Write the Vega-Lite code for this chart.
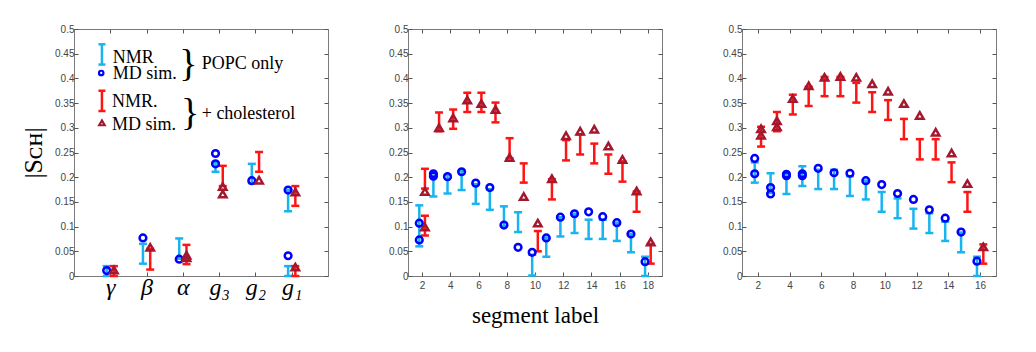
{
  "$schema": "https://vega.github.io/schema/vega-lite/v6.json",
  "background": "white",
  "padding": {"left": 20, "top": 23, "right": 38, "bottom": 5},
  "spacing": 80,
  "bounds": "flush",
  "config": {
    "view": {"stroke": "#7a7a7a", "strokeWidth": 1},
    "axis": {"grid": false, "domain": false, "tickColor": "#555", "tickSize": -4, "labelFont": "Liberation Sans", "labelFontSize": 10, "labelColor": "#444", "labelPadding": 4, "titleFont": "Liberation Serif", "titleFontWeight": "normal", "titleColor": "#000"}
  },
  "datasets": {
    "nmr": [
      {"p":1,"k":"nmrPOPC","x":0.9,"lo":0,"hi":0.02},
      {"p":1,"k":"nmrPOPC","x":1.9,"lo":0.025,"hi":0.065},
      {"p":1,"k":"nmrPOPC","x":2.9,"lo":0.035,"hi":0.076},
      {"p":1,"k":"nmrPOPC","x":3.9,"lo":0.211,"hi":0.23},
      {"p":1,"k":"nmrPOPC","x":4.9,"lo":0.188,"hi":0.227},
      {"p":1,"k":"nmrPOPC","x":5.9,"lo":0.131,"hi":0.174},
      {"p":1,"k":"nmrPOPC","x":5.9,"lo":0,"hi":0.02},
      {"p":1,"k":"nmrChol","x":1.1,"lo":0,"hi":0.02},
      {"p":1,"k":"nmrChol","x":2.1,"lo":0.013,"hi":0.055},
      {"p":1,"k":"nmrChol","x":3.1,"lo":0.024,"hi":0.063},
      {"p":1,"k":"nmrChol","x":4.1,"lo":0.182,"hi":0.223},
      {"p":1,"k":"nmrChol","x":5.1,"lo":0.211,"hi":0.251},
      {"p":1,"k":"nmrChol","x":6.1,"lo":0.142,"hi":0.182},
      {"p":1,"k":"nmrChol","x":6.1,"lo":0,"hi":0.02},

      {"p":2,"k":"nmrPOPC","x":1.8,"lo":0.06,"hi":0.143},
      {"p":2,"k":"nmrPOPC","x":2.8,"lo":0.161,"hi":0.203},
      {"p":2,"k":"nmrPOPC","x":3.8,"lo":0.167,"hi":0.205},
      {"p":2,"k":"nmrPOPC","x":4.8,"lo":0.174,"hi":0.213},
      {"p":2,"k":"nmrPOPC","x":5.8,"lo":0.146,"hi":0.186},
      {"p":2,"k":"nmrPOPC","x":6.8,"lo":0.134,"hi":0.176},
      {"p":2,"k":"nmrPOPC","x":7.8,"lo":0.101,"hi":0.141},
      {"p":2,"k":"nmrPOPC","x":8.8,"lo":0.089,"hi":0.129},
      {"p":2,"k":"nmrPOPC","x":9.8,"lo":0.001,"hi":0.043},
      {"p":2,"k":"nmrPOPC","x":10.8,"lo":0.039,"hi":0.078},
      {"p":2,"k":"nmrPOPC","x":11.8,"lo":0.08,"hi":0.119},
      {"p":2,"k":"nmrPOPC","x":12.8,"lo":0.087,"hi":0.126},
      {"p":2,"k":"nmrPOPC","x":13.8,"lo":0.075,"hi":0.114},
      {"p":2,"k":"nmrPOPC","x":14.8,"lo":0.075,"hi":0.114},
      {"p":2,"k":"nmrPOPC","x":15.8,"lo":0.071,"hi":0.108},
      {"p":2,"k":"nmrPOPC","x":16.8,"lo":0.048,"hi":0.085},
      {"p":2,"k":"nmrPOPC","x":17.8,"lo":0,"hi":0.039},
      {"p":2,"k":"nmrChol","x":2.2,"lo":0.177,"hi":0.217},
      {"p":2,"k":"nmrChol","x":2.2,"lo":0.082,"hi":0.122},
      {"p":2,"k":"nmrChol","x":3.2,"lo":0.293,"hi":0.331},
      {"p":2,"k":"nmrChol","x":4.2,"lo":0.298,"hi":0.337},
      {"p":2,"k":"nmrChol","x":5.2,"lo":0.332,"hi":0.371},
      {"p":2,"k":"nmrChol","x":6.2,"lo":0.332,"hi":0.371},
      {"p":2,"k":"nmrChol","x":7.2,"lo":0.311,"hi":0.351},
      {"p":2,"k":"nmrChol","x":8.2,"lo":0.238,"hi":0.279},
      {"p":2,"k":"nmrChol","x":9.2,"lo":0.189,"hi":0.228},
      {"p":2,"k":"nmrChol","x":10.2,"lo":0.05,"hi":0.091},
      {"p":2,"k":"nmrChol","x":11.2,"lo":0.155,"hi":0.196},
      {"p":2,"k":"nmrChol","x":12.2,"lo":0.234,"hi":0.275},
      {"p":2,"k":"nmrChol","x":13.2,"lo":0.246,"hi":0.287},
      {"p":2,"k":"nmrChol","x":14.2,"lo":0.228,"hi":0.268},
      {"p":2,"k":"nmrChol","x":15.2,"lo":0.207,"hi":0.246},
      {"p":2,"k":"nmrChol","x":16.2,"lo":0.191,"hi":0.232},
      {"p":2,"k":"nmrChol","x":17.2,"lo":0.13,"hi":0.171},
      {"p":2,"k":"nmrChol","x":18.2,"lo":0.025,"hi":0.065},

      {"p":3,"k":"nmrPOPC","x":1.8,"lo":0.189,"hi":0.23},
      {"p":3,"k":"nmrPOPC","x":2.8,"lo":0.168,"hi":0.208},
      {"p":3,"k":"nmrPOPC","x":3.8,"lo":0.166,"hi":0.206},
      {"p":3,"k":"nmrPOPC","x":4.8,"lo":0.182,"hi":0.222},
      {"p":3,"k":"nmrPOPC","x":5.8,"lo":0.176,"hi":0.215},
      {"p":3,"k":"nmrPOPC","x":6.8,"lo":0.176,"hi":0.215},
      {"p":3,"k":"nmrPOPC","x":7.8,"lo":0.162,"hi":0.202},
      {"p":3,"k":"nmrPOPC","x":8.8,"lo":0.155,"hi":0.193},
      {"p":3,"k":"nmrPOPC","x":9.8,"lo":0.13,"hi":0.17},
      {"p":3,"k":"nmrPOPC","x":10.8,"lo":0.117,"hi":0.157},
      {"p":3,"k":"nmrPOPC","x":11.8,"lo":0.096,"hi":0.136},
      {"p":3,"k":"nmrPOPC","x":12.8,"lo":0.087,"hi":0.127},
      {"p":3,"k":"nmrPOPC","x":13.8,"lo":0.071,"hi":0.11},
      {"p":3,"k":"nmrPOPC","x":14.8,"lo":0.048,"hi":0.088},
      {"p":3,"k":"nmrPOPC","x":15.8,"lo":0,"hi":0.039},
      {"p":3,"k":"nmrChol","x":2.2,"lo":0.262,"hi":0.302},
      {"p":3,"k":"nmrChol","x":3.2,"lo":0.293,"hi":0.332},
      {"p":3,"k":"nmrChol","x":4.2,"lo":0.327,"hi":0.367},
      {"p":3,"k":"nmrChol","x":5.2,"lo":0.344,"hi":0.383},
      {"p":3,"k":"nmrChol","x":6.2,"lo":0.364,"hi":0.403},
      {"p":3,"k":"nmrChol","x":7.2,"lo":0.364,"hi":0.403},
      {"p":3,"k":"nmrChol","x":8.2,"lo":0.351,"hi":0.391},
      {"p":3,"k":"nmrChol","x":9.2,"lo":0.332,"hi":0.372},
      {"p":3,"k":"nmrChol","x":10.2,"lo":0.316,"hi":0.356},
      {"p":3,"k":"nmrChol","x":11.2,"lo":0.277,"hi":0.318},
      {"p":3,"k":"nmrChol","x":12.2,"lo":0.236,"hi":0.277},
      {"p":3,"k":"nmrChol","x":13.2,"lo":0.236,"hi":0.277},
      {"p":3,"k":"nmrChol","x":14.2,"lo":0.19,"hi":0.23},
      {"p":3,"k":"nmrChol","x":15.2,"lo":0.13,"hi":0.17},
      {"p":3,"k":"nmrChol","x":16.2,"lo":0.025,"hi":0.064}
    ],
    "md": [
      {"p":1,"k":"mdPOPC","x":0.9,"v":0.011},
      {"p":1,"k":"mdPOPC","x":1.9,"v":0.077},
      {"p":1,"k":"mdPOPC","x":2.9,"v":0.034},
      {"p":1,"k":"mdPOPC","x":3.9,"v":0.248},
      {"p":1,"k":"mdPOPC","x":3.9,"v":0.227},
      {"p":1,"k":"mdPOPC","x":4.9,"v":0.193},
      {"p":1,"k":"mdPOPC","x":5.9,"v":0.174},
      {"p":1,"k":"mdPOPC","x":5.9,"v":0.041},
      {"p":1,"k":"mdChol","x":1.1,"v":0.012},
      {"p":1,"k":"mdChol","x":2.1,"v":0.058},
      {"p":1,"k":"mdChol","x":3.1,"v":0.042},
      {"p":1,"k":"mdChol","x":3.1,"v":0.037},
      {"p":1,"k":"mdChol","x":4.1,"v":0.181},
      {"p":1,"k":"mdChol","x":4.1,"v":0.166},
      {"p":1,"k":"mdChol","x":5.1,"v":0.194},
      {"p":1,"k":"mdChol","x":6.1,"v":0.17},
      {"p":1,"k":"mdChol","x":6.1,"v":0.018},

      {"p":2,"k":"mdPOPC","x":1.8,"v":0.107},
      {"p":2,"k":"mdPOPC","x":1.8,"v":0.073},
      {"p":2,"k":"mdPOPC","x":2.8,"v":0.207},
      {"p":2,"k":"mdPOPC","x":2.8,"v":0.202},
      {"p":2,"k":"mdPOPC","x":3.8,"v":0.201},
      {"p":2,"k":"mdPOPC","x":4.8,"v":0.211},
      {"p":2,"k":"mdPOPC","x":5.8,"v":0.188},
      {"p":2,"k":"mdPOPC","x":6.8,"v":0.179},
      {"p":2,"k":"mdPOPC","x":7.8,"v":0.103},
      {"p":2,"k":"mdPOPC","x":8.8,"v":0.058},
      {"p":2,"k":"mdPOPC","x":9.8,"v":0.048},
      {"p":2,"k":"mdPOPC","x":10.8,"v":0.077},
      {"p":2,"k":"mdPOPC","x":11.8,"v":0.119},
      {"p":2,"k":"mdPOPC","x":12.8,"v":0.126},
      {"p":2,"k":"mdPOPC","x":13.8,"v":0.13},
      {"p":2,"k":"mdPOPC","x":14.8,"v":0.12},
      {"p":2,"k":"mdPOPC","x":15.8,"v":0.108},
      {"p":2,"k":"mdPOPC","x":16.8,"v":0.085},
      {"p":2,"k":"mdPOPC","x":17.8,"v":0.029},
      {"p":2,"k":"mdChol","x":2.2,"v":0.171},
      {"p":2,"k":"mdChol","x":2.2,"v":0.099},
      {"p":2,"k":"mdChol","x":3.2,"v":0.3},
      {"p":2,"k":"mdChol","x":4.2,"v":0.32},
      {"p":2,"k":"mdChol","x":5.2,"v":0.356},
      {"p":2,"k":"mdChol","x":6.2,"v":0.349},
      {"p":2,"k":"mdChol","x":7.2,"v":0.337},
      {"p":2,"k":"mdChol","x":8.2,"v":0.24},
      {"p":2,"k":"mdChol","x":9.2,"v":0.161},
      {"p":2,"k":"mdChol","x":10.2,"v":0.107},
      {"p":2,"k":"mdChol","x":11.2,"v":0.197},
      {"p":2,"k":"mdChol","x":12.2,"v":0.284},
      {"p":2,"k":"mdChol","x":13.2,"v":0.293},
      {"p":2,"k":"mdChol","x":14.2,"v":0.297},
      {"p":2,"k":"mdChol","x":15.2,"v":0.263},
      {"p":2,"k":"mdChol","x":16.2,"v":0.236},
      {"p":2,"k":"mdChol","x":17.2,"v":0.172},
      {"p":2,"k":"mdChol","x":18.2,"v":0.069},

      {"p":3,"k":"mdPOPC","x":1.8,"v":0.238},
      {"p":3,"k":"mdPOPC","x":1.8,"v":0.207},
      {"p":3,"k":"mdPOPC","x":2.8,"v":0.179},
      {"p":3,"k":"mdPOPC","x":2.8,"v":0.166},
      {"p":3,"k":"mdPOPC","x":3.8,"v":0.206},
      {"p":3,"k":"mdPOPC","x":3.8,"v":0.203},
      {"p":3,"k":"mdPOPC","x":4.8,"v":0.207},
      {"p":3,"k":"mdPOPC","x":4.8,"v":0.203},
      {"p":3,"k":"mdPOPC","x":5.8,"v":0.218},
      {"p":3,"k":"mdPOPC","x":6.8,"v":0.209},
      {"p":3,"k":"mdPOPC","x":7.8,"v":0.208},
      {"p":3,"k":"mdPOPC","x":8.8,"v":0.193},
      {"p":3,"k":"mdPOPC","x":9.8,"v":0.185},
      {"p":3,"k":"mdPOPC","x":10.8,"v":0.167},
      {"p":3,"k":"mdPOPC","x":11.8,"v":0.155},
      {"p":3,"k":"mdPOPC","x":12.8,"v":0.134},
      {"p":3,"k":"mdPOPC","x":13.8,"v":0.117},
      {"p":3,"k":"mdPOPC","x":14.8,"v":0.089},
      {"p":3,"k":"mdPOPC","x":15.8,"v":0.03},
      {"p":3,"k":"mdChol","x":2.2,"v":0.298},
      {"p":3,"k":"mdChol","x":2.2,"v":0.285},
      {"p":3,"k":"mdChol","x":3.2,"v":0.314},
      {"p":3,"k":"mdChol","x":3.2,"v":0.302},
      {"p":3,"k":"mdChol","x":4.2,"v":0.359},
      {"p":3,"k":"mdChol","x":5.2,"v":0.385},
      {"p":3,"k":"mdChol","x":6.2,"v":0.402},
      {"p":3,"k":"mdChol","x":7.2,"v":0.404},
      {"p":3,"k":"mdChol","x":8.2,"v":0.402},
      {"p":3,"k":"mdChol","x":9.2,"v":0.389},
      {"p":3,"k":"mdChol","x":10.2,"v":0.374},
      {"p":3,"k":"mdChol","x":11.2,"v":0.349},
      {"p":3,"k":"mdChol","x":12.2,"v":0.325},
      {"p":3,"k":"mdChol","x":13.2,"v":0.291},
      {"p":3,"k":"mdChol","x":14.2,"v":0.249},
      {"p":3,"k":"mdChol","x":15.2,"v":0.187},
      {"p":3,"k":"mdChol","x":16.2,"v":0.059}
    ],
    "legbar": [
      {"k":"nmrPOPC","x":0.77,"lo":0.428,"hi":0.469},
      {"k":"nmrChol","x":0.77,"lo":0.334,"hi":0.375}
    ],
    "legpt": [
      {"k":"mdPOPC","x":0.75,"v":0.411},
      {"k":"mdChol","x":0.77,"v":0.31}
    ],
    "legtext": [
      {"x":1.07,"y":0.432,"t":"NMR"},
      {"x":1.07,"y":0.398,"t":"MD sim."},
      {"x":3.52,"y":0.42,"t":"POPC only"},
      {"x":1.05,"y":0.343,"t":"NMR."},
      {"x":1.05,"y":0.295,"t":"MD sim."},
      {"x":3.52,"y":0.317,"t":"+ cholesterol"}
    ],
    "legbrace": [
      {"x":3.15,"y":0.427,"t":"}"},
      {"x":3.2,"y":0.328,"t":"}"}
    ]
  },
  "hconcat": [
    {
      "width": 254, "height": 247,
      "resolve": {"axis": {"x": "independent", "y": "independent"}},
      "layer": [
        {"data": {"name": "nmr"}, "transform": [{"filter": "datum.p == 1"}],
         "mark": {"type": "rule", "strokeWidth": 2.5},
         "encoding": {
           "x": {"field": "x", "type": "quantitative", "scale": {"domain": [0, 7], "nice": false, "zero": false},
                 "axis": {"values": [1,2,3,4,5,6], "labelExpr": "['','γ','β','α','g₃','g₂','g₁'][datum.value]", "labelFont": "Liberation Serif", "labelFontStyle": "italic", "labelFontSize": 24, "labelColor": "#000", "labelBaseline": "alphabetic", "labelPadding": 22, "title": null}},
           "y": {"field": "lo", "type": "quantitative", "scale": {"domain": [0, 0.5], "nice": false},
                 "axis": {"values": [0,0.05,0.1,0.15,0.2,0.25,0.3,0.35,0.4,0.45,0.5], "format": ".2~f", "title": "|Sᴄʜ|", "titleFontSize": 26, "titlePadding": 8}},
           "y2": {"field": "hi"},
           "color": {"field": "k", "type": "nominal", "legend": null, "scale": {"domain": ["nmrPOPC","nmrChol","mdPOPC","mdChol"], "range": ["#17b4f0","#ff1414","#0000ff","#a3182e"]}}
         }},
        {"data": {"name": "nmr"}, "transform": [{"filter": "datum.p == 1"}],
         "mark": {"type": "tick", "orient": "horizontal", "size": 8, "thickness": 2.5, "opacity": 1},
         "encoding": {"x": {"field": "x", "type": "quantitative", "axis": null}, "y": {"field": "lo", "type": "quantitative", "axis": null}, "color": {"field": "k", "type": "nominal", "legend": null}}},
        {"data": {"name": "nmr"}, "transform": [{"filter": "datum.p == 1"}],
         "mark": {"type": "tick", "orient": "horizontal", "size": 8, "thickness": 2.5, "opacity": 1},
         "encoding": {"x": {"field": "x", "type": "quantitative", "axis": null}, "y": {"field": "hi", "type": "quantitative", "axis": null}, "color": {"field": "k", "type": "nominal", "legend": null}}},
        {"data": {"name": "md"}, "transform": [{"filter": "datum.p == 1 && datum.k == 'mdPOPC'"}],
         "mark": {"type": "point", "shape": "circle", "filled": false, "strokeWidth": 2.5, "size": 45, "opacity": 1},
         "encoding": {"x": {"field": "x", "type": "quantitative", "axis": null}, "y": {"field": "v", "type": "quantitative", "axis": null}, "color": {"field": "k", "type": "nominal", "legend": null}}},
        {"data": {"name": "md"}, "transform": [{"filter": "datum.p == 1 && datum.k == 'mdChol'"}],
         "mark": {"type": "point", "shape": "triangle-up", "filled": false, "strokeWidth": 2.5, "size": 55, "opacity": 1},
         "encoding": {"x": {"field": "x", "type": "quantitative", "axis": null}, "y": {"field": "v", "type": "quantitative", "axis": null}, "color": {"field": "k", "type": "nominal", "legend": null}}},
        {"data": {"name": "legbar"},
         "mark": {"type": "rule", "strokeWidth": 2.5},
         "encoding": {"x": {"field": "x", "type": "quantitative", "axis": null}, "y": {"field": "lo", "type": "quantitative", "axis": null}, "y2": {"field": "hi"}, "color": {"field": "k", "type": "nominal", "legend": null}}},
        {"data": {"name": "legbar"},
         "mark": {"type": "tick", "orient": "horizontal", "size": 7, "thickness": 2.5, "opacity": 1},
         "encoding": {"x": {"field": "x", "type": "quantitative", "axis": null}, "y": {"field": "lo", "type": "quantitative", "axis": null}, "color": {"field": "k", "type": "nominal", "legend": null}}},
        {"data": {"name": "legbar"},
         "mark": {"type": "tick", "orient": "horizontal", "size": 7, "thickness": 2.5, "opacity": 1},
         "encoding": {"x": {"field": "x", "type": "quantitative", "axis": null}, "y": {"field": "hi", "type": "quantitative", "axis": null}, "color": {"field": "k", "type": "nominal", "legend": null}}},
        {"data": {"name": "legpt"}, "transform": [{"filter": "datum.k == 'mdPOPC'"}],
         "mark": {"type": "point", "shape": "circle", "filled": false, "strokeWidth": 2.2, "size": 20, "opacity": 1},
         "encoding": {"x": {"field": "x", "type": "quantitative", "axis": null}, "y": {"field": "v", "type": "quantitative", "axis": null}, "color": {"field": "k", "type": "nominal", "legend": null}}},
        {"data": {"name": "legpt"}, "transform": [{"filter": "datum.k == 'mdChol'"}],
         "mark": {"type": "point", "shape": "triangle-up", "filled": false, "strokeWidth": 2.2, "size": 30, "opacity": 1},
         "encoding": {"x": {"field": "x", "type": "quantitative", "axis": null}, "y": {"field": "v", "type": "quantitative", "axis": null}, "color": {"field": "k", "type": "nominal", "legend": null}}},
        {"data": {"name": "legtext"},
         "mark": {"type": "text", "align": "left", "baseline": "alphabetic", "font": "Liberation Serif", "fontSize": 18, "color": "#000"},
         "encoding": {"x": {"field": "x", "type": "quantitative", "axis": null}, "y": {"field": "y", "type": "quantitative", "axis": null}, "text": {"field": "t"}}},
        {"data": {"name": "legbrace"},
         "mark": {"type": "text", "align": "center", "baseline": "middle", "font": "Liberation Serif", "fontSize": 38, "color": "#000"},
         "encoding": {"x": {"field": "x", "type": "quantitative", "axis": null}, "y": {"field": "y", "type": "quantitative", "axis": null}, "text": {"field": "t"}}},
        {"data": {"name": "md"}, "transform": [{"filter": "datum.p == 1"}],
         "mark": {"type": "point", "opacity": 0},
         "encoding": {
           "x": {"field": "x", "type": "quantitative", "axis": {"orient": "top", "labels": false, "title": null, "values": [1,2,3,4,5,6]}},
           "y": {"field": "v", "type": "quantitative", "axis": {"orient": "right", "labels": false, "title": null, "values": [0,0.05,0.1,0.15,0.2,0.25,0.3,0.35,0.4,0.45,0.5]}}
         }}
      ]
    },
    {
      "width": 254, "height": 247,
      "resolve": {"axis": {"x": "independent", "y": "independent"}},
      "layer": [
        {"data": {"name": "nmr"}, "transform": [{"filter": "datum.p == 2"}],
         "mark": {"type": "rule", "strokeWidth": 2.5},
         "encoding": {
           "x": {"field": "x", "type": "quantitative", "scale": {"domain": [1, 19], "nice": false, "zero": false},
                 "axis": {"values": [2,4,6,8,10,12,14,16,18], "labelPadding": 8, "title": "segment label", "titleFontSize": 23, "titlePadding": 14}},
           "y": {"field": "lo", "type": "quantitative", "scale": {"domain": [0, 0.5], "nice": false},
                 "axis": {"values": [0,0.05,0.1,0.15,0.2,0.25,0.3,0.35,0.4,0.45,0.5], "format": ".2~f", "title": null}},
           "y2": {"field": "hi"},
           "color": {"field": "k", "type": "nominal", "legend": null, "scale": {"domain": ["nmrPOPC","nmrChol","mdPOPC","mdChol"], "range": ["#17b4f0","#ff1414","#0000ff","#a3182e"]}}
         }},
        {"data": {"name": "nmr"}, "transform": [{"filter": "datum.p == 2"}],
         "mark": {"type": "tick", "orient": "horizontal", "size": 8, "thickness": 2.5, "opacity": 1},
         "encoding": {"x": {"field": "x", "type": "quantitative", "axis": null}, "y": {"field": "lo", "type": "quantitative", "axis": null}, "color": {"field": "k", "type": "nominal", "legend": null}}},
        {"data": {"name": "nmr"}, "transform": [{"filter": "datum.p == 2"}],
         "mark": {"type": "tick", "orient": "horizontal", "size": 8, "thickness": 2.5, "opacity": 1},
         "encoding": {"x": {"field": "x", "type": "quantitative", "axis": null}, "y": {"field": "hi", "type": "quantitative", "axis": null}, "color": {"field": "k", "type": "nominal", "legend": null}}},
        {"data": {"name": "md"}, "transform": [{"filter": "datum.p == 2 && datum.k == 'mdPOPC'"}],
         "mark": {"type": "point", "shape": "circle", "filled": false, "strokeWidth": 2.5, "size": 45, "opacity": 1},
         "encoding": {"x": {"field": "x", "type": "quantitative", "axis": null}, "y": {"field": "v", "type": "quantitative", "axis": null}, "color": {"field": "k", "type": "nominal", "legend": null}}},
        {"data": {"name": "md"}, "transform": [{"filter": "datum.p == 2 && datum.k == 'mdChol'"}],
         "mark": {"type": "point", "shape": "triangle-up", "filled": false, "strokeWidth": 2.5, "size": 55, "opacity": 1},
         "encoding": {"x": {"field": "x", "type": "quantitative", "axis": null}, "y": {"field": "v", "type": "quantitative", "axis": null}, "color": {"field": "k", "type": "nominal", "legend": null}}},
        {"data": {"name": "md"}, "transform": [{"filter": "datum.p == 2"}],
         "mark": {"type": "point", "opacity": 0},
         "encoding": {
           "x": {"field": "x", "type": "quantitative", "axis": {"orient": "top", "labels": false, "title": null, "values": [2,4,6,8,10,12,14,16,18]}},
           "y": {"field": "v", "type": "quantitative", "axis": {"orient": "right", "labels": false, "title": null, "values": [0,0.05,0.1,0.15,0.2,0.25,0.3,0.35,0.4,0.45,0.5]}}
         }}
      ]
    },
    {
      "width": 254, "height": 247,
      "resolve": {"axis": {"x": "independent", "y": "independent"}},
      "layer": [
        {"data": {"name": "nmr"}, "transform": [{"filter": "datum.p == 3"}],
         "mark": {"type": "rule", "strokeWidth": 2.5},
         "encoding": {
           "x": {"field": "x", "type": "quantitative", "scale": {"domain": [1, 17], "nice": false, "zero": false},
                 "axis": {"values": [2,4,6,8,10,12,14,16], "labelPadding": 8, "title": null}},
           "y": {"field": "lo", "type": "quantitative", "scale": {"domain": [0, 0.5], "nice": false},
                 "axis": {"values": [0,0.05,0.1,0.15,0.2,0.25,0.3,0.35,0.4,0.45,0.5], "format": ".2~f", "title": null}},
           "y2": {"field": "hi"},
           "color": {"field": "k", "type": "nominal", "legend": null, "scale": {"domain": ["nmrPOPC","nmrChol","mdPOPC","mdChol"], "range": ["#17b4f0","#ff1414","#0000ff","#a3182e"]}}
         }},
        {"data": {"name": "nmr"}, "transform": [{"filter": "datum.p == 3"}],
         "mark": {"type": "tick", "orient": "horizontal", "size": 8, "thickness": 2.5, "opacity": 1},
         "encoding": {"x": {"field": "x", "type": "quantitative", "axis": null}, "y": {"field": "lo", "type": "quantitative", "axis": null}, "color": {"field": "k", "type": "nominal", "legend": null}}},
        {"data": {"name": "nmr"}, "transform": [{"filter": "datum.p == 3"}],
         "mark": {"type": "tick", "orient": "horizontal", "size": 8, "thickness": 2.5, "opacity": 1},
         "encoding": {"x": {"field": "x", "type": "quantitative", "axis": null}, "y": {"field": "hi", "type": "quantitative", "axis": null}, "color": {"field": "k", "type": "nominal", "legend": null}}},
        {"data": {"name": "md"}, "transform": [{"filter": "datum.p == 3 && datum.k == 'mdPOPC'"}],
         "mark": {"type": "point", "shape": "circle", "filled": false, "strokeWidth": 2.5, "size": 45, "opacity": 1},
         "encoding": {"x": {"field": "x", "type": "quantitative", "axis": null}, "y": {"field": "v", "type": "quantitative", "axis": null}, "color": {"field": "k", "type": "nominal", "legend": null}}},
        {"data": {"name": "md"}, "transform": [{"filter": "datum.p == 3 && datum.k == 'mdChol'"}],
         "mark": {"type": "point", "shape": "triangle-up", "filled": false, "strokeWidth": 2.5, "size": 55, "opacity": 1},
         "encoding": {"x": {"field": "x", "type": "quantitative", "axis": null}, "y": {"field": "v", "type": "quantitative", "axis": null}, "color": {"field": "k", "type": "nominal", "legend": null}}},
        {"data": {"name": "md"}, "transform": [{"filter": "datum.p == 3"}],
         "mark": {"type": "point", "opacity": 0},
         "encoding": {
           "x": {"field": "x", "type": "quantitative", "axis": {"orient": "top", "labels": false, "title": null, "values": [2,4,6,8,10,12,14,16]}},
           "y": {"field": "v", "type": "quantitative", "axis": {"orient": "right", "labels": false, "title": null, "values": [0,0.05,0.1,0.15,0.2,0.25,0.3,0.35,0.4,0.45,0.5]}}
         }}
      ]
    }
  ]
}
